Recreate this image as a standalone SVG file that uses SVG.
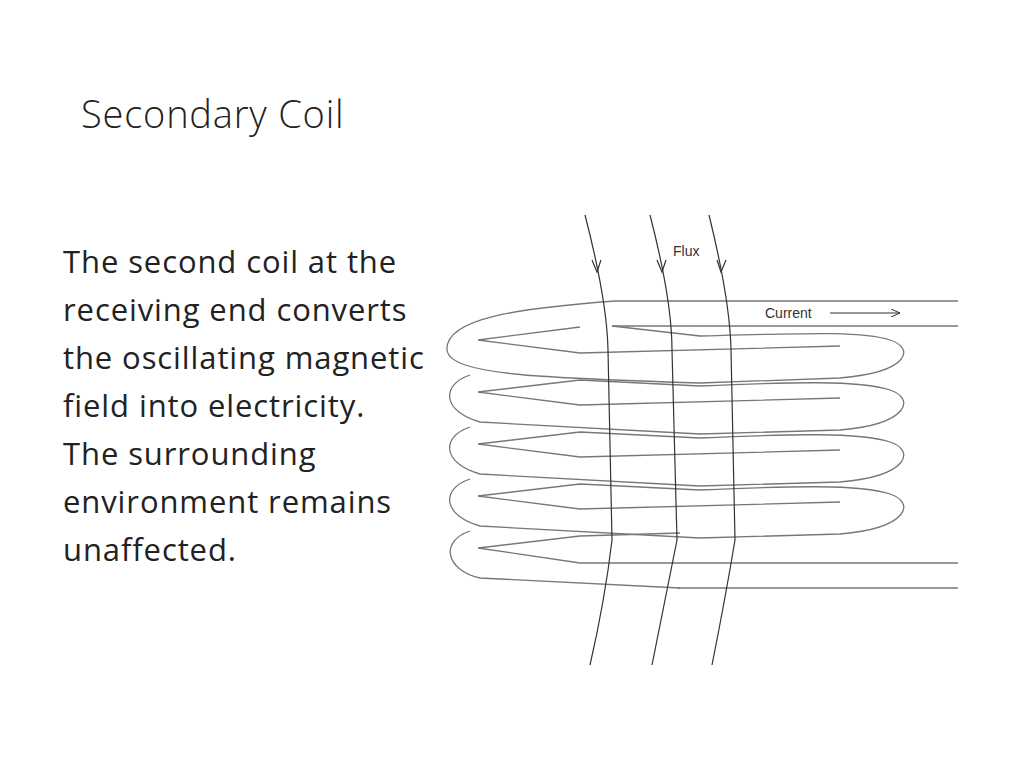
<svg xmlns="http://www.w3.org/2000/svg" width="1024" height="768" viewBox="0 0 1024 768">
<style>
.t{font-family:"Open Sans","Liberation Sans",sans-serif;fill:#222}
.c{fill:none;stroke:#777;stroke-width:1.3}
.f{fill:none;stroke:#333;stroke-width:1.2}
.l{font-family:"Liberation Sans",Arial,sans-serif;font-size:14px;fill:#333}
</style>
<defs><marker id="a" markerWidth="10" markerHeight="8" refX="9" refY="4" orient="auto" markerUnits="userSpaceOnUse"><path d="M0,0 L9,4 L0,8" fill="none" stroke="#333"/></marker></defs>
<rect width="1024" height="768" fill="#fff"/>
<text x="81" y="128" class="t" style="font-size:38px;font-weight:300;letter-spacing:0.8px">Secondary Coil</text>
<g class="t" style="font-size:31px;letter-spacing:0.9px">
<text x="63" y="273">The second coil at the</text>
<text x="63" y="321">receiving end converts</text>
<text x="63" y="369">the oscillating magnetic</text>
<text x="63" y="417">field into electricity.</text>
<text x="63" y="465">The surrounding</text>
<text x="63" y="513">environment remains</text>
<text x="63" y="561">unaffected.</text>
</g>
<g id="coil">
<path class="c" d="M615,301 L958,301 M612,326 L958,326 M678,563 L958,563 M678,588 L958,588"/>
<path class="c" d="M615,301 C520,308 445,318 447,350 C450,375 540,378 700,383 L840,378 C910,372 915,348 890,340 C860,330 790,334 700,336 L612,326"/>
<path class="c" d="M478,340 L580,327 M478,340 L580,353 L840,346"/>
<path class="c" d="M470,375 C440,385 443,412 480,422 L700,434 L840,430 C910,424 915,398 890,390 C860,380 790,382 700,386 L580,380 M478,392 L580,380 M478,392 L580,405 L840,398"/>
<path class="c" d="M470,427 C440,437 443,464 480,474 L700,486 L840,482 C910,476 915,450 890,442 C860,432 790,434 700,438 L580,432 M478,444 L580,432 M478,444 L580,457 L840,450"/>
<path class="c" d="M470,479 C440,489 443,516 480,526 L700,538 L840,534 C910,528 915,502 890,494 C860,484 790,486 700,490 L580,484 M478,496 L580,484 M478,496 L580,509 L840,502"/>
<path class="c" d="M470,531 C440,541 445,570 480,578 L680,588 M478,548 L580,536 M478,548 L580,563 L678,563 M580,536 L680,533"/>
</g>
<g id="flux">
<path class="f" d="M585,215 Q607,300 608,350 L612,540 Q605,600 590,665"/>
<path class="f" d="M650,215 Q672,300 672,350 L677,540 Q665,600 652,665"/>
<path class="f" d="M709,215 Q730,300 731,350 L735,540 Q725,600 712,665"/>
<path class="f" d="M592,260 L597,272 L601,260 M657,260 L662,272 L666,260 M717,260 L721,272 L726,260"/>
</g>
<text x="673" y="256" class="l">Flux</text>
<text x="765" y="318" class="l">Current</text>
<path d="M830,313 L900,313" stroke="#333" stroke-width="1" marker-end="url(#a)"/>
</svg>
